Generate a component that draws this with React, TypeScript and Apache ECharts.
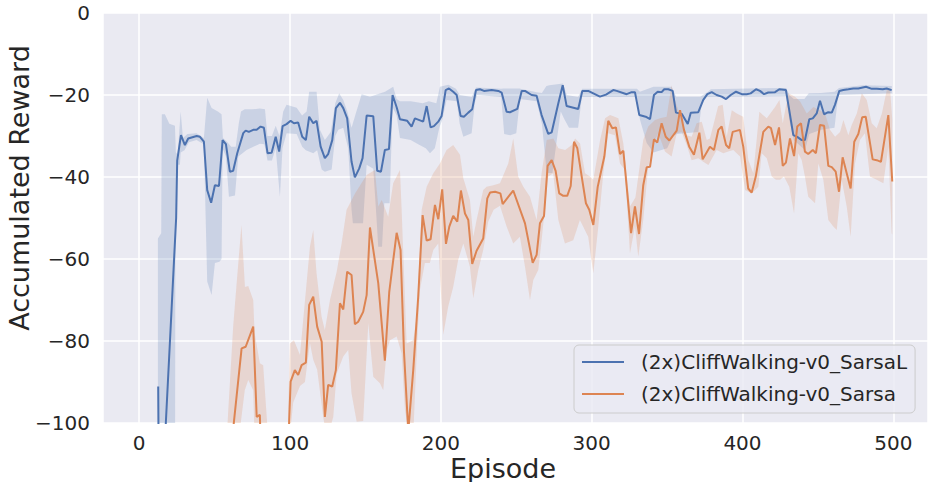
import React, { useEffect, useRef } from "react";
import * as echarts from "echarts";

const seriesNames = ["(2x)CliffWalking-v0_SarsaL", "(2x)CliffWalking-v0_Sarsa"];
const xAxisTitle = "Episode";
const yAxisTitle = "Accumulated Reward";

const blueMean: [number, number][] = [
  [12.6,-91.1],[13.2,-125],[16,-112],[21.5,-72],[24.5,-50],[25.2,-36],[27.7,-29.8],[30.3,-32.2],[32.5,-30.6],[38.1,-30],[40.3,-30.2],[42.9,-31.4],[45.1,-43.2],[47.7,-46.3],[50.2,-42],[52.9,-42.2],[55.3,-31],[57.5,-32],[60.1,-38.7],[62.3,-38.5],[65,-34.2],[69,-29.3],[70.6,-28.7],[72.7,-29],[75.6,-28.5],[77.9,-28.5],[80.5,-27.7],[82.7,-28],[85.1,-34.2],[87.8,-34.1],[90.5,-30.2],[92.8,-33.8],[95.1,-27.6],[97.7,-27.1],[100.4,-26.3],[102.6,-26.9],[105.4,-26.7],[108.1,-30.2],[110.5,-31],[112.7,-25.3],[115.4,-26.9],[117.6,-26.3],[120.3,-32.6],[123.1,-35.4],[125.3,-34.4],[128,-31],[130.4,-23.2],[133.1,-21.9],[135.3,-23.2],[137.9,-25.7],[140.8,-36.3],[143,-40.1],[145.9,-37.9],[148.1,-35.4],[150.8,-25],[155.2,-25.2],[157.8,-38.5],[160.3,-38.7],[162.9,-33.4],[165.6,-33.2],[168,-20],[170.7,-23],[172.9,-25.9],[177.7,-26.3],[180.6,-27.7],[182.8,-25.7],[188.3,-26.5],[190.6,-22.7],[193.2,-27.9],[195.4,-27.6],[198.3,-26.5],[200.5,-25.1],[203.2,-18.8],[205.4,-18.4],[208.2,-19.2],[210.5,-20],[213.1,-25.1],[215.3,-25.3],[218.2,-24.3],[220.8,-23.5],[223.3,-18.8],[225.9,-18.6],[228.6,-19],[233.7,-18.8],[238.1,-19],[240.3,-19.4],[243.6,-24.1],[245.8,-24.2],[250.7,-23.4],[253.6,-19],[255.8,-19],[260.2,-20],[263.5,-20.2],[266.8,-24.9],[271.2,-29.5],[273.5,-29.1],[277.9,-22],[280.8,-17.6],[283.4,-22.7],[291.1,-23.4],[293.8,-19],[297.7,-19],[301.1,-19.6],[305.5,-20.4],[309.5,-19.9],[314.3,-18.8],[316.6,-19],[323.2,-19.8],[326.5,-19.3],[328.7,-19.3],[331.6,-24.9],[335.8,-25.3],[338.7,-25.9],[341.3,-20],[343.8,-19.2],[346.4,-19.3],[348.1,-18.6],[350.8,-18.6],[353.7,-19],[355.9,-24.3],[359.7,-24.6],[363.7,-27.1],[365.7,-24.3],[370.7,-24.2],[374,-21.2],[376.7,-19.8],[379.6,-19.3],[382.9,-20],[386.2,-20.4],[389.1,-21],[392.2,-20],[395.7,-19.2],[399.5,-19.8],[402.8,-19.8],[405.4,-19.6],[409,-18.6],[411.6,-19],[414.3,-19.8],[417.1,-19.4],[421.6,-19.3],[424.4,-18.6],[428.8,-18.8],[431,-23.7],[433.7,-29.8],[436.3,-30.2],[439.3,-31],[441.4,-31],[444.3,-25.9],[446.6,-25.7],[449.2,-24.5],[451.4,-21.4],[454.1,-24.7],[456.9,-24.2],[459.2,-24.3],[461.3,-22.4],[464.2,-19],[466.8,-18.8],[470.2,-18.6],[473.5,-18.4],[476.8,-18.4],[481.9,-18],[485.7,-18.5],[489,-18.5],[493,-18.6],[495.6,-18.4],[498.9,-18.8]
];

const orangeMean: [number, number][] = [
  [55,-160],[62.3,-101.5],[67.9,-81.8],[70.6,-81.4],[75.6,-76.5],[77.9,-98.5],[80,-98],[82.5,-130],[96,-130],[98.2,-112],[100.4,-89.9],[103.2,-87.1],[105.4,-88.3],[107.7,-85.9],[110.5,-85.3],[112.7,-71.2],[115.4,-69.2],[118,-76.5],[121,-80.2],[123.1,-98.5],[125.3,-90.7],[128,-91.1],[130.4,-87.1],[133.1,-70.8],[135.3,-72.3],[137.9,-63.1],[140.8,-63.9],[143,-75.9],[145.2,-75.3],[148.5,-72.9],[150.8,-68.8],[153,-52.3],[158.5,-65.9],[162.9,-84.8],[165.8,-68],[170.7,-53.6],[173.3,-57.8],[175.5,-82.2],[178.4,-102],[181.7,-87.1],[185,-69.2],[187.9,-49.3],[190.6,-55.5],[193.2,-55.2],[196.1,-46.8],[198.3,-50.3],[200.9,-43],[203.4,-56.3],[205.6,-52.1],[208.2,-49.5],[210.9,-50.9],[213.3,-43.3],[216,-48.9],[218.2,-50.5],[220.8,-61.2],[223.7,-58],[228.1,-55],[230.8,-45.2],[232.6,-43.8],[236,-43.6],[239.5,-44],[241,-46.6],[248,-43.3],[255.8,-51.3],[260.9,-60.9],[263.5,-59],[265.7,-51.3],[268.4,-49.5],[270.8,-37.3],[273.5,-35.9],[276.1,-38.5],[278.5,-44],[281.2,-44.6],[283.8,-44.6],[286.1,-42.2],[288.3,-31.4],[290.5,-33],[293.4,-39.9],[296.2,-46.4],[298.4,-48],[301.1,-51.7],[304,-42.4],[308.4,-35],[311,-26.3],[313.7,-28.1],[316.1,-27.9],[318.8,-34.4],[321,-33.6],[326.1,-53.7],[328.7,-47.2],[331.4,-53.9],[334.2,-42],[336.5,-37.6],[338.7,-37.5],[341.3,-30.8],[343.5,-31.6],[346.4,-26.9],[349.1,-30.2],[351.5,-31.1],[356.4,-28.7],[358.6,-23.7],[361.2,-28.5],[364.7,-32.6],[367.8,-34.6],[371.4,-29.2],[373.6,-35.7],[378.4,-32.6],[381.1,-33.4],[384,-28.5],[386.2,-27.7],[389.1,-32.2],[391.2,-33],[393.5,-29],[398.3,-28.5],[400.5,-32.6],[403.8,-42.8],[406.1,-43.8],[408.8,-39.9],[413.8,-29],[417.1,-27.7],[418.9,-28.1],[421.6,-32.2],[424.2,-27.9],[426.7,-37.3],[428.8,-36.5],[431.5,-30.6],[434.2,-34.9],[436.3,-27.7],[438.8,-26.9],[441.4,-33.8],[443.6,-34.4],[446.6,-33.4],[448.7,-34.2],[451.4,-27.3],[454.1,-27.5],[456.9,-37.3],[459.2,-37.6],[461.8,-38.7],[464,-43.6],[466.4,-35.2],[469.1,-39.1],[471.7,-42.8],[474.1,-31.4],[476.8,-29.5],[479.4,-25.4],[481.7,-25.3],[486.3,-35.7],[489,-35.9],[491.8,-36.3],[496.7,-24.9],[499.3,-41.1]
];

const blueUpper: [number, number][] = [
  [12.4,-55],[14.6,-53.7],[15,-24.7],[17,-24.7],[20,-27],[23.7,-27.5],[24.3,-34],[25.5,-34.5],[27.5,-24],[29,-30.5],[32,-29.5],[38,-29.3],[42.9,-30.5],[45.1,-20.7],[48,-23.2],[52.4,-24.1],[54.6,-24.7],[55.5,-30.5],[58.5,-31.5],[61,-32.6],[64,-32.6],[66,-27],[67.5,-24],[70,-23.5],[75,-23.5],[80,-23.3],[83.4,-23.5],[85,-30],[88,-30],[90.5,-27.5],[93,-30],[95.5,-24],[97.7,-22.4],[104.4,-23.1],[108,-25],[111,-24],[112.7,-19.2],[117.6,-19.2],[119.8,-28.5],[123.1,-31],[127,-29],[130,-22],[132.6,-19.6],[135.3,-21.2],[138,-24],[140.8,-28],[144,-24],[147.5,-19.8],[153,-20.4],[158,-19.8],[163,-19.2],[168.4,-18],[170.7,-21],[172.9,-21.5],[180,-21.5],[188,-22],[192,-21.5],[197,-22],[199.4,-18],[205,-17.5],[210,-18.5],[212.5,-20],[220.5,-20.5],[223.3,-18.2],[240,-18.5],[241.5,-18.4],[252,-18.4],[263.5,-19.3],[267,-19.5],[270,-17.8],[272,-17.6],[281,-17.2],[283.5,-20],[291,-20.5],[293.8,-18.5],[330,-18.5],[332,-19.2],[341,-18],[353,-18],[356,-20.4],[372,-20.4],[376.7,-19.3],[379,-18.6],[404,-18.4],[429,-18.3],[431,-20],[434,-21],[441,-21],[444,-19.6],[452,-19.5],[461,-19.2],[464,-18.3],[480,-17.6],[499,-17.8]
];

const blueLower: [number, number][] = [
  [12.4,-130],[23.7,-130],[24,-52],[25.2,-37],[27,-37],[27.5,-34],[30,-33.5],[33,-31.5],[38,-31],[42.9,-32],[45.1,-65.5],[48,-68.8],[50.2,-61],[53.2,-60.7],[54.6,-60],[55.3,-33],[57.5,-35],[59.5,-44.8],[63.5,-44.5],[65.7,-35],[71.2,-33.4],[80,-31.9],[83,-32],[85.1,-36],[88,-36],[90.5,-33],[93.3,-44.8],[95,-33],[97.7,-29.3],[104.4,-29.5],[108.1,-32.6],[110.5,-33.5],[115.4,-34.2],[118,-33.5],[121,-38.2],[123.1,-38.7],[127.6,-38.2],[130,-30],[132,-28.5],[135.3,-28],[138.6,-33.1],[140.8,-48],[141.7,-51.3],[148.4,-51.3],[150.8,-37],[155.2,-38],[157,-48],[158.5,-57],[161,-57],[162.5,-46.4],[166,-46.4],[168,-23],[170.7,-25],[172.9,-30.5],[180,-31],[185,-32],[190,-33],[192.8,-34.2],[196,-33],[199,-28],[201,-26],[203.8,-21.2],[210.5,-21.5],[212.5,-27],[214.9,-30.2],[220.4,-29.3],[222.5,-22],[224,-20],[240,-20.5],[242,-29.5],[246,-29.8],[250,-29.3],[252.5,-21],[263.5,-21.5],[267,-27],[270.2,-39],[274,-39],[276.5,-32],[279.5,-24],[282,-26],[285,-28],[291,-28],[293.5,-20.5],[330,-20.5],[332,-26],[336.5,-31.7],[341,-34],[350,-33],[354,-30],[356.5,-29.5],[370.7,-29],[373,-22],[376,-20.5],[429,-20.3],[431,-26],[434,-31],[441.4,-33.4],[444.3,-29.5],[452,-28.5],[461,-28],[463.5,-20],[499,-19.6]
];

const orangeUpper: [number, number][] = [
  [57,-110],[62.3,-76.5],[64.6,-66],[67.8,-51.7],[70.1,-66.8],[72.3,-66.6],[75.6,-70],[76.5,-78],[80,-85.4],[82.2,-85.9],[86.7,-110],[98,-110],[99.9,-80.6],[102.6,-79.8],[106.6,-83.4],[113.2,-57],[115.4,-52.9],[117.6,-63.5],[120.9,-74],[123.1,-77.3],[126.5,-70],[131,-63],[134.2,-56.2],[137.5,-48],[143.1,-44],[150.8,-39.5],[156.3,-38.3],[158.5,-47.2],[160.8,-45.6],[165.1,-49.7],[168.4,-41.5],[172.9,-38.3],[174,-48],[177.3,-80.6],[181.7,-79.8],[184,-74],[187.3,-48],[190.6,-42.4],[195,-39.1],[199.4,-36.7],[203.8,-33.4],[208.2,-32.2],[212.7,-34.6],[214.9,-40.3],[219.3,-45.6],[221.5,-54.6],[223.7,-50.5],[228.1,-43.2],[230.3,-42.4],[234.8,-42],[239.2,-41.5],[244.7,-36.7],[248,-30.6],[251.3,-39.9],[254.7,-42.4],[259.1,-44.8],[263.5,-50.5],[266.8,-39.1],[270.2,-31],[274.6,-30.6],[277.9,-33],[282.4,-33.4],[286.8,-32.2],[289,-30.6],[292.3,-31.8],[295.6,-39.1],[298.9,-39.9],[301.1,-40.7],[305.6,-31],[308.9,-25.7],[312.2,-24.9],[317.7,-25.7],[321,-31.8],[325.4,-47.2],[329,-45],[334.2,-31],[337.5,-27.7],[342,-26.1],[345.3,-25.7],[349.7,-25.3],[353,-17.6],[355.2,-21.2],[359.7,-26.1],[363,-29.8],[366.3,-30.2],[369.6,-26.9],[373,-26.5],[376.3,-31],[378.4,-30.6],[383.9,-22.7],[386.9,-22.4],[389.5,-30.2],[392.9,-23.7],[396.2,-24.5],[400.5,-25.3],[403.9,-35.9],[407.2,-39.1],[411.2,-24.1],[416.1,-25.7],[421.6,-22.9],[424.5,-21.2],[426.7,-26.9],[430.4,-19.6],[434.8,-20.4],[438.2,-21.6],[442.6,-24.5],[447,-22.9],[451.4,-23.7],[454.7,-24.5],[458,-28.5],[461.4,-30.2],[464.7,-29],[466.9,-26.1],[470.2,-29.8],[472.4,-27.3],[475.8,-24.5],[479.1,-19.6],[482.4,-21.2],[485.7,-26.9],[489,-28.1],[492.4,-24.5],[495.7,-18.8],[497.9,-18.8],[499.3,-26]
];

const orangeLower: [number, number][] = [
  [57,-110],[62.3,-110],[66,-104],[70,-92],[72.3,-89.5],[75.6,-92],[77,-110],[98,-110],[102.1,-95],[106.6,-91],[109.9,-90],[113.2,-80.5],[115.4,-84.6],[118,-87],[122,-98.5],[124.5,-104],[128.7,-98.5],[130.9,-88],[135.3,-83.8],[138.6,-82.2],[140.8,-92.8],[144.2,-99.7],[148.5,-99.5],[151.9,-75.7],[155.2,-88.7],[159.6,-90.3],[161.8,-92],[164.1,-82.2],[166.3,-79.8],[170.7,-78.9],[174,-83],[176.2,-96.8],[179.5,-104],[181.7,-103],[184.3,-80.6],[186.1,-67.6],[189.4,-61],[192.7,-61],[195,-57.8],[198.3,-56.2],[201.6,-78.5],[204.9,-71.6],[208.2,-66.8],[211.5,-60.2],[214.9,-56.2],[219.3,-61.9],[221.5,-69.6],[224.8,-62.7],[228.1,-57.8],[231.4,-50.9],[235,-48],[239.2,-47],[243.6,-52.1],[248,-56.2],[252.4,-54.6],[255.8,-61.9],[259.1,-70],[261.3,-65.1],[264.6,-62.7],[266.8,-55.4],[271.2,-39.9],[274.5,-39.1],[277.9,-50.5],[282.3,-56.2],[287.8,-55.4],[292.2,-50.5],[297.7,-54.6],[301.1,-63.5],[304.4,-52.1],[307.7,-39.1],[311,-29.3],[315.4,-29.8],[318.8,-36.7],[322.1,-38.3],[325.4,-58.6],[328.7,-52.1],[330.9,-59.4],[334.2,-50.5],[337.5,-37.5],[340.8,-31.8],[344.2,-29.3],[348.6,-33.8],[353,-35],[356.4,-29.3],[359.7,-29],[363,-32.2],[366.3,-35.9],[370.7,-35.4],[374,-36.3],[377.4,-37.1],[382.9,-33.4],[387.3,-34.2],[390.6,-33.8],[393.9,-33.4],[398.4,-35],[401.7,-43.2],[406.1,-44],[410.5,-42.4],[412.7,-34.2],[416.1,-35.4],[419.4,-39.9],[422.2,-40.7],[424.9,-40.7],[427.5,-39.9],[431,-42.4],[434.2,-48.9],[437,-34.2],[439.3,-35.9],[441.4,-39.9],[443.6,-44.8],[448.1,-46.4],[450.3,-36.7],[453.6,-40.7],[456.9,-50.5],[460.2,-52.1],[462.5,-52.9],[465.8,-40.7],[469.1,-47.2],[471.7,-54.6],[474.6,-36.7],[477.9,-31],[481.2,-29.3],[484.5,-39.9],[489,-40.7],[493.4,-41.5],[496.7,-32.6],[498.9,-53.7],[499.3,-54]
];

const BLUE = "#4c72b0";
const ORANGE = "#dd8452";
const TEXT = "#262626";
const FONT = "DejaVu Sans";

function bandSeries(upper: [number, number][], lower: [number, number][], color: string) {
  return {
    type: "custom",
    silent: true,
    clip: true,
    z: 1,
    data: [[0, 0]],
    renderItem: (_params: any, api: any) => {
      const pts = [
        ...upper.map((p) => api.coord(p)),
        ...lower.slice().reverse().map((p) => api.coord(p)),
      ];
      return {
        type: "polygon",
        shape: { points: pts },
        style: { fill: color, opacity: 0.2, stroke: "none" },
      };
    },
  };
}

const fmtMinus = (v: number) => (v < 0 ? "\u2212" + Math.abs(v) : String(v));

export default function App() {
  const ref = useRef<HTMLDivElement>(null);
  useEffect(() => {
    if (!ref.current) return;
    const chart = echarts.init(ref.current, undefined, { renderer: "svg" });
    chart.setOption({
      animation: false,
      backgroundColor: "#ffffff",
      textStyle: { fontFamily: FONT },
      grid: {
        left: 103,
        right: 0,
        top: 13,
        bottom: 59,
        show: true,
        backgroundColor: "#eaeaf2",
        borderWidth: 0,
        containLabel: false,
        outerBoundsMode: "none",
      },
      graphic: [
        {
          type: "text",
          x: 503,
          y: 468,
          style: {
            text: xAxisTitle,
            fontSize: 27,
            fontFamily: FONT,
            fill: TEXT,
            textAlign: "center",
            textVerticalAlign: "middle",
          },
        },
        {
          type: "text",
          x: 19,
          y: 188,
          rotation: Math.PI / 2,
          style: {
            text: yAxisTitle,
            fontSize: 27,
            fontFamily: FONT,
            fill: TEXT,
            textAlign: "center",
            textVerticalAlign: "middle",
          },
        },
      ],
      xAxis: {
        type: "value",
        min: -24,
        max: 523,
        splitNumber: 5,
        axisLine: { show: false },
        axisTick: { show: false },
        splitLine: { show: true, lineStyle: { color: "#ffffff", width: 1.5 } },
        axisLabel: {
          fontSize: 20,
          color: TEXT,
          fontFamily: FONT,
          margin: 10,
          formatter: (v: number) => (Math.round(v) % 100 === 0 ? fmtMinus(v) : ""),
        },
      },
      yAxis: {
        type: "value",
        min: -100,
        max: 0,
        interval: 20,
        axisLine: { show: false },
        axisTick: { show: false },
        splitLine: { show: true, lineStyle: { color: "#ffffff", width: 1.5 } },
        axisLabel: {
          fontSize: 20,
          color: TEXT,
          fontFamily: FONT,
          margin: 13,
          formatter: fmtMinus,
        },
      },
      legend: {
        data: seriesNames,
        orient: "vertical",
        left: 574,
        top: 345,
        icon: "rect",
        itemWidth: 42,
        itemHeight: 2,
        itemGap: 8,
        padding: [5, 8, 7, 8],
        backgroundColor: "rgba(234,234,242,0.8)",
        borderColor: "#cccccc",
        borderWidth: 1,
        borderRadius: 5,
        textStyle: {
          fontSize: 20,
          color: TEXT,
          fontFamily: FONT,
          lineHeight: 24,
          padding: [0, 0, 0, 12],
        },
      },
      series: [
        bandSeries(blueUpper, blueLower, BLUE),
        bandSeries(orangeUpper, orangeLower, ORANGE),
        {
          name: seriesNames[0],
          type: "line",
          data: blueMean,
          showSymbol: false,
          symbol: "none",
          z: 3,
          lineStyle: { color: BLUE, width: 2 },
          itemStyle: { color: BLUE },
        },
        {
          name: seriesNames[1],
          type: "line",
          data: orangeMean,
          showSymbol: false,
          symbol: "none",
          z: 3,
          lineStyle: { color: ORANGE, width: 2 },
          itemStyle: { color: ORANGE },
        },
      ],
    });
    return () => chart.dispose();
  }, []);
  return (
    <div
      ref={ref}
      style={{ position: "absolute", left: 0, top: 0, width: 928, height: 482 }}
    />
  );
}
